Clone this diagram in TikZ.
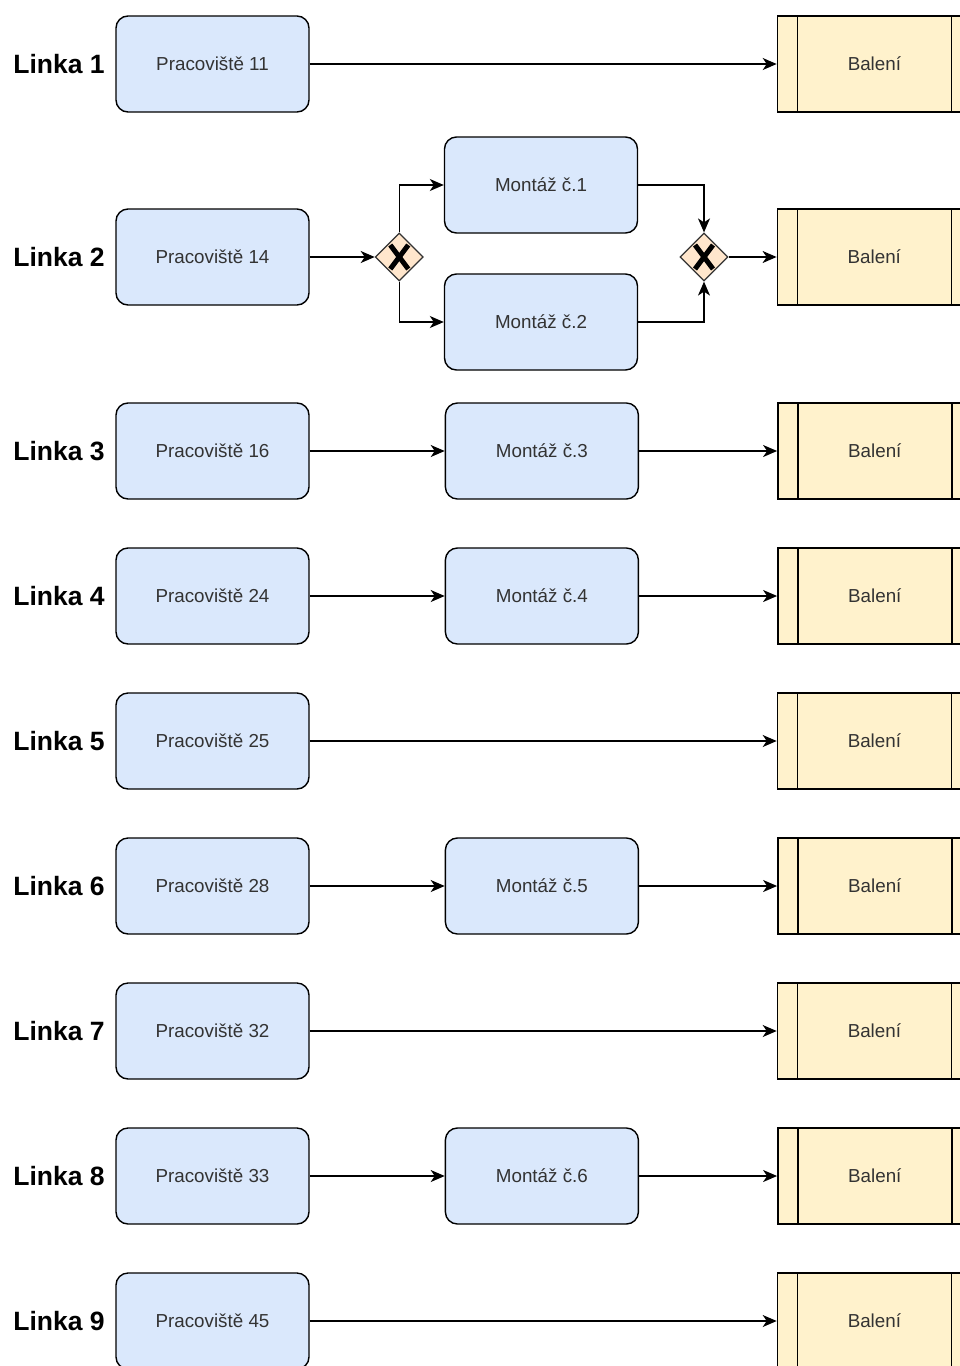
\documentclass[tikz,border=0pt]{standalone}
\usepackage{fontspec}
\setmainfont{Liberation Sans}
\usetikzlibrary{positioning, arrows.meta, shapes.geometric}

\definecolor{boxblue}{HTML}{DAE8FC}
\definecolor{boxyellow}{HTML}{FFF2CC}
\definecolor{gatefill}{HTML}{FFE6CC}
\definecolor{txtgray}{HTML}{333333}

\tikzset{
    station/.style={draw, rounded corners=12pt, fill=boxblue, minimum width=193pt, minimum height=96pt,
        text=txtgray, font=\fontsize{18.8}{22}\selectfont, line width=1.4pt},
    packing/.style={draw, fill=boxyellow, minimum width=194pt, minimum height=96pt,
        text=txtgray, font=\fontsize{18.8}{22}\selectfont, line width=1.4pt,
        path picture={
            \draw[line width=1.4pt] ([xshift=20pt]path picture bounding box.north west) -- ([xshift=20pt]path picture bounding box.south west);
            \draw[line width=1.4pt] ([xshift=-20pt]path picture bounding box.north east) -- ([xshift=-20pt]path picture bounding box.south east);
        }},
    gateway/.style={diamond, draw=txtgray, fill=gatefill, minimum width=48pt, minimum height=48pt, inner sep=0pt, line width=1.2pt,
        path picture={
            \draw[black, line width=5pt] ([shift={(-9pt,-12pt)}]path picture bounding box.center) -- ([shift={(9pt,12pt)}]path picture bounding box.center);
            \draw[black, line width=5pt] ([shift={(-9pt,12pt)}]path picture bounding box.center) -- ([shift={(9pt,-12pt)}]path picture bounding box.center);
        }},
    lbl/.style={inner sep=0pt, font=\fontsize{26.5}{30}\selectfont\bfseries}
}

\begin{document}
\begin{tikzpicture}[x=1pt, y=-1pt, >={Stealth[length=14pt, width=12pt, inset=4pt]}, line width=1.3pt]
    \path[use as bounding box] (0,0) rectangle (960,1366);
    \clip (0,0) rectangle (960,1366);

    % Linka 1
    \node[station] (p1) at (212.5,64) {Pracoviště 11};
    \node[lbl] (l1) [left=10pt of p1] {Linka 1};
    \node[packing] (b1) [right=467pt of p1] {Balení};

    % Linka 2
    \node[station] (p2) at (212.5,257) {Pracoviště 14};
    \node[lbl] (l2) [left=10pt of p2] {Linka 2};
    \node[gateway] (g1) [right=65pt of p2] {};
    \node[station] (m1) at (541,185) {Montáž č.1};
    \node[station] (m2) at (541,322) {Montáž č.2};
    \node[gateway] (g2) at (704,257) {};
    \node[packing] (b2) [right=48pt of g2] {Balení};

    % Linka 3
    \node[station] (p3) at (212.5,451) {Pracoviště 16};
    \node[lbl] (l3) [left=10pt of p3] {Linka 3};
    \node[station] (m3) [right=135pt of p3] {Montáž č.3};
    \node[packing] (b3) [right=138pt of m3] {Balení};

    % Linka 4
    \node[station] (p4) at (212.5,596) {Pracoviště 24};
    \node[lbl] (l4) [left=10pt of p4] {Linka 4};
    \node[station] (m4) [right=135pt of p4] {Montáž č.4};
    \node[packing] (b4) [right=138pt of m4] {Balení};

    % Linka 5
    \node[station] (p5) at (212.5,741) {Pracoviště 25};
    \node[lbl] (l5) [left=10pt of p5] {Linka 5};
    \node[packing] (b5) [right=467pt of p5] {Balení};

    % Linka 6
    \node[station] (p6) at (212.5,886) {Pracoviště 28};
    \node[lbl] (l6) [left=10pt of p6] {Linka 6};
    \node[station] (m6) [right=135pt of p6] {Montáž č.5};
    \node[packing] (b6) [right=138pt of m6] {Balení};

    % Linka 7
    \node[station] (p7) at (212.5,1031) {Pracoviště 32};
    \node[lbl] (l7) [left=10pt of p7] {Linka 7};
    \node[packing] (b7) [right=467pt of p7] {Balení};

    % Linka 8
    \node[station] (p8) at (212.5,1176) {Pracoviště 33};
    \node[lbl] (l8) [left=10pt of p8] {Linka 8};
    \node[station] (m8) [right=135pt of p8] {Montáž č.6};
    \node[packing] (b8) [right=138pt of m8] {Balení};

    % Linka 9
    \node[station] (p9) at (212.5,1321) {Pracoviště 45};
    \node[lbl] (l9) [left=10pt of p9] {Linka 9};
    \node[packing] (b9) [right=467pt of p9] {Balení};

    \path[->]
    (p1) edge (b1)
    (p2) edge (g1)
    (g1.north) edge[to path={|- (\tikztotarget)}] (m1.west)
    (g1.south) edge[to path={|- (\tikztotarget)}] (m2.west)
    (m1.east) edge[to path={-| (\tikztotarget)}] (g2.north)
    (m2.east) edge[to path={-| (\tikztotarget)}] (g2.south)
    (g2) edge (b2)
    (p3) edge (m3)
    (m3) edge (b3)
    (p4) edge (m4)
    (m4) edge (b4)
    (p5) edge (b5)
    (p6) edge (m6)
    (m6) edge (b6)
    (p7) edge (b7)
    (p8) edge (m8)
    (m8) edge (b8)
    (p9) edge (b9);
\end{tikzpicture}
\end{document}
